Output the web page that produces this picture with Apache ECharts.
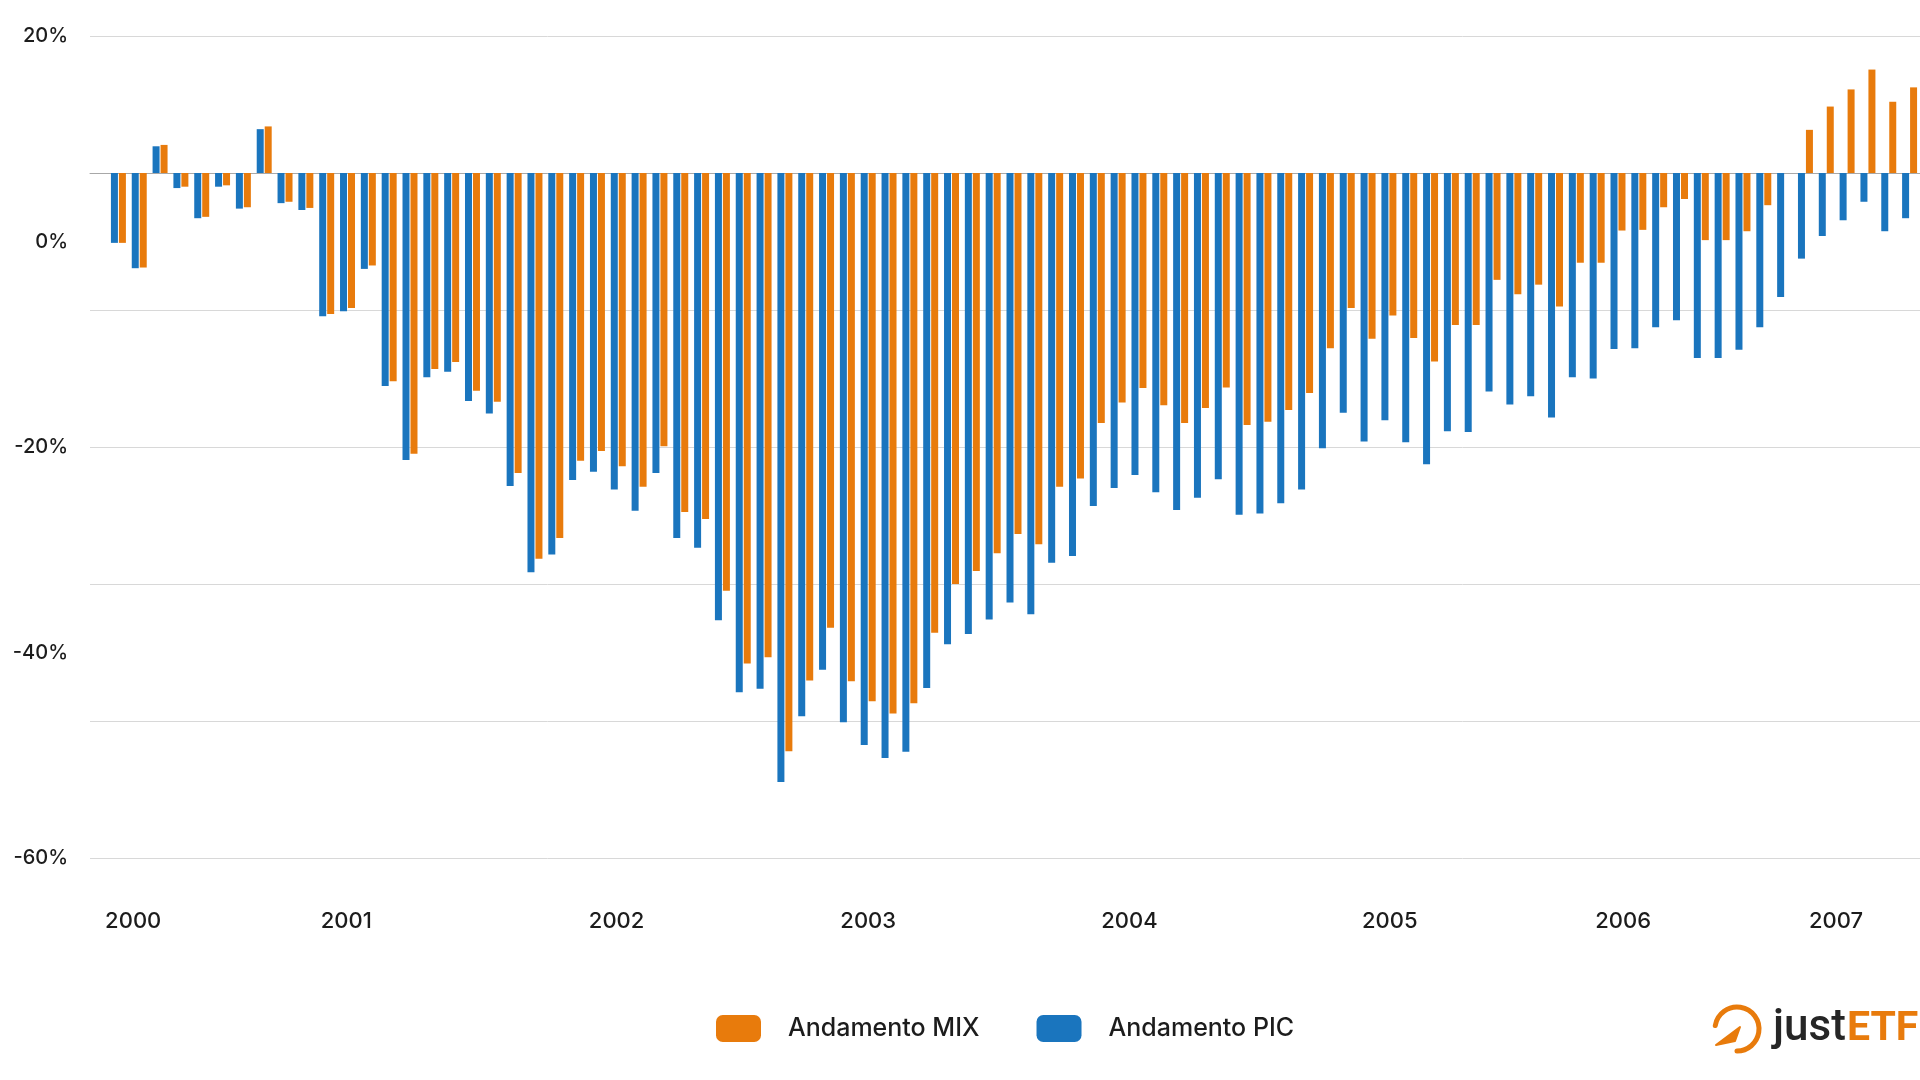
<!DOCTYPE html>
<html>
<head>
<meta charset="utf-8">
<script src="https://cdn.jsdelivr.net/npm/echarts@6/dist/echarts.min.js"></script>
<style>
html,body{margin:0;padding:0;background:#ffffff;}
#chart{width:1920px;height:1080px;}
</style>
</head>
<body>
<div id="chart"></div>
<script>
// ---- data ----
const seriesNames = ['Andamento MIX', 'Andamento PIC'];

const pic = [
  -10.2, -13.9, 3.9, -2.2, -6.6, -2.0, -5.2, 6.4, -4.4, -5.4,
  -20.9, -20.2, -14.0, -31.1, -41.9, -29.8, -29.0, -33.3, -35.1, -45.7,
  -58.3, -55.7, -44.8, -43.6, -46.2, -49.3, -43.8, -53.3, -54.7, -65.3,
  -75.8, -75.3, -88.9, -79.3, -72.5, -80.2, -83.5, -85.4, -84.5, -75.2,
  -68.8, -67.3, -65.2, -62.7, -64.4, -56.9, -55.9, -48.6, -46.0, -44.1,
  -46.6, -49.2, -47.4, -44.7, -49.9, -49.7, -48.2, -46.2, -40.2, -35.0,
  -39.2, -36.1, -39.3, -42.5, -37.7, -37.8, -31.9, -33.8, -32.6, -35.7,
  -29.8, -30.0, -25.7, -25.6, -22.5, -21.5, -27.0, -27.0, -25.8, -22.5,
  -18.1, -12.5, -9.2, -6.9, -4.2, -8.5, -6.6
];

const mix = [
  -10.2, -13.8, 4.1, -2.0, -6.4, -1.8, -5.0, 6.8, -4.2, -5.1,
  -20.6, -19.7, -13.5, -30.4, -41.0, -28.6, -27.6, -31.8, -33.4, -43.8,
  -56.3, -53.3, -42.0, -40.6, -42.8, -45.8, -39.9, -49.5, -50.5, -61.0,
  -71.6, -70.7, -84.4, -74.1, -66.4, -74.2, -77.1, -78.9, -77.4, -67.1,
  -60.0, -58.1, -55.5, -52.7, -54.2, -45.8, -44.6, -36.5, -33.5, -31.4,
  -33.9, -36.5, -34.3, -31.3, -36.8, -36.3, -34.6, -32.1, -25.6, -19.7,
  -24.2, -20.8, -24.1, -27.5, -22.2, -22.2, -15.6, -17.7, -16.3, -19.5,
  -13.1, -13.1, -8.4, -8.3, -5.0, -3.8, -9.8, -9.8, -8.5, -4.7,
  0.0, 6.3, 9.7, 12.2, 15.1, 10.4, 12.5
];

// one category per bar group
const categories = pic.map((_, i) => 'P' + (i + 1));

// year tick labels and where they sit (in bar-group index units)
const yearLabels = ['2000', '2001', '2002', '2003', '2004', '2005', '2006', '2007'];
const yearTickIndex = [0.71, 10.94, 23.92, 36.0, 48.54, 61.04, 72.25, 82.47];

// left-axis tick labels
const yTickMin = -60, yTickMax = 20, yTickStep = 20;
// gridline scale used by the bars
const gridMin = -100, gridMax = 20, gridStep = 20;

// ---- chart ----
const ORANGE = '#e87b0c';
const BLUE = '#1a75be';
const TEXT = '#1c1c1c';
const FONT = 'Inter, "Noto Sans", sans-serif';

const chart = echarts.init(document.getElementById('chart'), null, {renderer: 'canvas'});

const labelVals = yearTickIndex.map(v => v + 0.5);

const option = {
  animation: false,
  backgroundColor: '#ffffff',
  textStyle: {fontFamily: FONT},
  grid: [
    {left: 108, right: -5, top: 36, bottom: 222},
    {left: 90, right: 0, top: 36, bottom: 222}
  ],
  xAxis: [
    {
      type: 'category', gridIndex: 0, position: 'bottom', data: categories,
      axisLine: {show: false, onZero: false}, axisTick: {show: false},
      axisLabel: {show: false}, splitLine: {show: false}
    },
    {
      type: 'value', gridIndex: 0, position: 'bottom', min: 0, max: categories.length,
      axisLine: {show: false, onZero: false}, axisTick: {show: false}, splitLine: {show: false},
      axisLabel: {
        customValues: labelVals,
        margin: 52, fontSize: 22, fontWeight: 500, color: TEXT, fontFamily: FONT,
        formatter: function (val) {
          for (let i = 0; i < labelVals.length; i++) {
            if (Math.abs(labelVals[i] - val) < 1e-6) return yearLabels[i];
          }
          return '';
        }
      }
    },
    {
      type: 'value', gridIndex: 1, position: 'bottom', min: 0, max: 1,
      axisLine: {show: true, onZero: true, lineStyle: {color: '#a8a8a8', width: 1}},
      axisTick: {show: false}, axisLabel: {show: false}, splitLine: {show: false}
    }
  ],
  yAxis: [
    {
      type: 'value', gridIndex: 0, position: 'left', min: gridMin, max: gridMax, interval: gridStep,
      show: false, axisLine: {onZero: false}
    },
    {
      type: 'value', gridIndex: 0, position: 'left', min: yTickMin, max: yTickMax, interval: yTickStep,
      axisLine: {show: false, onZero: false}, axisTick: {show: false}, splitLine: {show: false},
      axisLabel: {formatter: '{value}%', margin: 40, fontSize: 20, fontWeight: 500, color: TEXT, fontFamily: FONT}
    },
    {
      type: 'value', gridIndex: 1, position: 'left', min: gridMin, max: gridMax, interval: gridStep,
      axisLine: {show: false, onZero: false}, axisTick: {show: false}, axisLabel: {show: false},
      splitLine: {show: true, lineStyle: {color: '#d8d8d8', width: 1}}
    }
  ],
  legend: {
    data: [seriesNames[0], seriesNames[1]],
    left: 716, top: 1015, padding: 0,
    icon: 'roundRect', itemWidth: 45, itemHeight: 27, itemGap: 57,
    textStyle: {fontSize: 25, fontWeight: 500, color: TEXT, fontFamily: FONT, padding: [0, 0, 0, 22]}
  },
  series: [
    {
      name: seriesNames[1], type: 'bar', xAxisIndex: 0, yAxisIndex: 0,
      data: pic, barWidth: 7, barGap: '14%',
      itemStyle: {color: BLUE}
    },
    {
      name: seriesNames[0], type: 'bar', xAxisIndex: 0, yAxisIndex: 0,
      data: mix, barWidth: 7, barGap: '14%',
      itemStyle: {color: ORANGE}
    }
  ],
  graphic: [
    {
      type: 'arc', z: 10,
      shape: {cx: 1737, cy: 1029, r: 22, startAngle: Math.PI * 1.05, endAngle: Math.PI * 2.5, clockwise: true},
      style: {stroke: ORANGE, lineWidth: 5, fill: null, lineCap: 'round'}
    },
    {
      type: 'polygon', z: 10,
      shape: {points: [[1716, 1045], [1740, 1027], [1735, 1041]]},
      style: {fill: ORANGE, stroke: ORANGE, lineWidth: 2, lineJoin: 'round'}
    },
    {
      type: 'text', z: 10, left: 1773, top: 1007,
      style: {text: 'just', fontSize: 44, fontWeight: 500, fontFamily: 'Roboto, sans-serif', fill: '#262626'}
    },
    {
      type: 'text', z: 10, left: 1847, top: 1009,
      style: {text: 'ETF', fontSize: 41, fontWeight: 'bold', fontFamily: 'Roboto, sans-serif', fill: ORANGE}
    }
  ]
};

chart.setOption(option);
</script>
</body>
</html>
